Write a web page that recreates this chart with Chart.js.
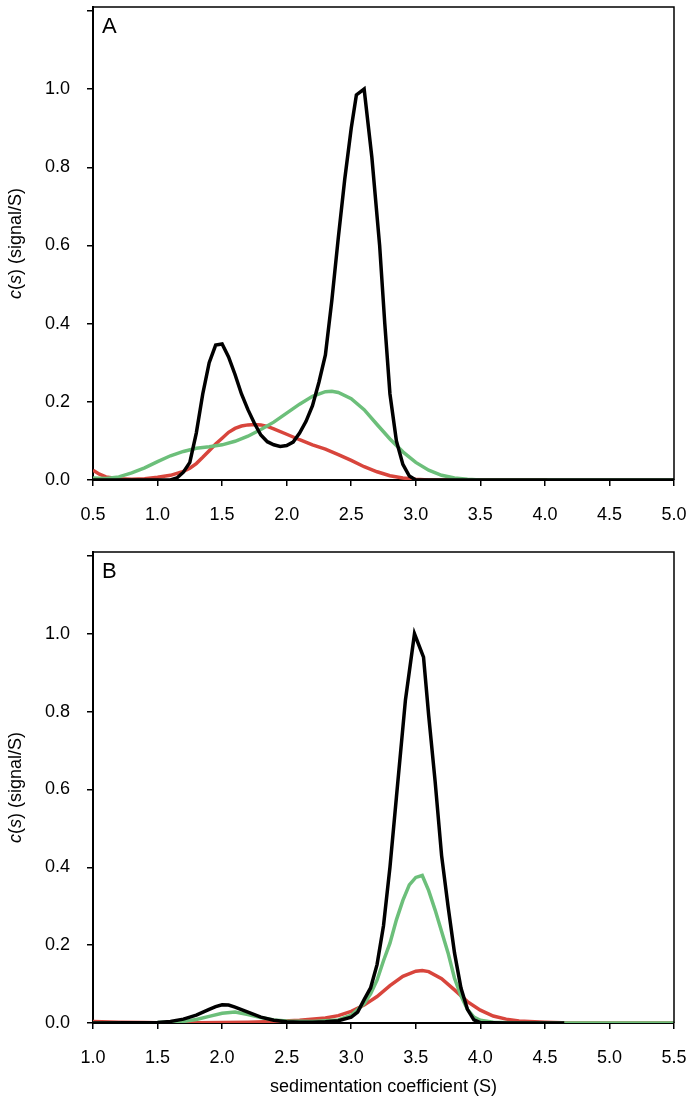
<!DOCTYPE html>
<html>
<head>
<meta charset="utf-8">
<script src="https://cdn.jsdelivr.net/npm/chart.js@4/dist/chart.umd.min.js"></script>
<style>
  html, body { margin: 0; padding: 0; background: #fff; }
  #wrap { position: relative; width: 694px; height: 1102px; }
  canvas { position: absolute; left: 0; }
</style>
</head>
<body>
<div id="wrap">
  <canvas id="chartA" width="694" height="540" style="top:0px"></canvas>
  <canvas id="chartB" width="694" height="562" style="top:540px"></canvas>
</div>
<script>
// panel A: sedimentation coefficient (S) and c(s) per curve
var aBlackS = [0.5, 0.8, 1.0, 1.1, 1.15, 1.2, 1.25, 1.3, 1.35, 1.4, 1.45, 1.5, 1.55, 1.6, 1.65, 1.7, 1.75, 1.8, 1.85, 1.9, 1.95, 2.0, 2.05, 2.1, 2.15, 2.2, 2.25, 2.3, 2.35, 2.4, 2.45, 2.5, 2.54, 2.6, 2.66, 2.72, 2.76, 2.8, 2.85, 2.9, 2.95, 3.0, 5.0];
var aBlackC = [0, 0, 0, 0, 0.005, 0.02, 0.045, 0.12, 0.22, 0.30, 0.345, 0.348, 0.315, 0.27, 0.22, 0.18, 0.145, 0.115, 0.098, 0.09, 0.086, 0.088, 0.097, 0.12, 0.15, 0.19, 0.25, 0.32, 0.46, 0.62, 0.77, 0.90, 0.985, 1.0, 0.825, 0.60, 0.40, 0.22, 0.10, 0.04, 0.01, 0, 0];
var aGreenS = [0.5, 0.6, 0.7, 0.8, 0.9, 1.0, 1.1, 1.2, 1.3, 1.4, 1.5, 1.6, 1.7, 1.8, 1.9, 2.0, 2.1, 2.2, 2.3, 2.35, 2.4, 2.5, 2.6, 2.7, 2.8, 2.9, 3.0, 3.1, 3.2, 3.3, 3.4, 3.5, 5.0];
var aGreenC = [0.005, 0.004, 0.008, 0.018, 0.031, 0.047, 0.062, 0.073, 0.081, 0.085, 0.09, 0.099, 0.112, 0.129, 0.148, 0.171, 0.194, 0.214, 0.226, 0.227, 0.224, 0.208, 0.18, 0.142, 0.105, 0.072, 0.045, 0.025, 0.012, 0.005, 0.002, 0, 0];
var aRedS = [0.5, 0.55, 0.6, 0.7, 0.8, 0.9, 1.0, 1.1, 1.2, 1.25, 1.3, 1.35, 1.4, 1.45, 1.5, 1.55, 1.6, 1.65, 1.7, 1.75, 1.8, 1.85, 1.9, 2.0, 2.1, 2.2, 2.3, 2.4, 2.5, 2.6, 2.7, 2.8, 2.9, 3.0, 3.1, 4.02];
var aRedC = [0.025, 0.015, 0.008, 0.003, 0.002, 0.003, 0.007, 0.012, 0.022, 0.03, 0.042, 0.058, 0.075, 0.092, 0.107, 0.122, 0.132, 0.138, 0.141, 0.142, 0.141, 0.137, 0.131, 0.117, 0.103, 0.09, 0.079, 0.065, 0.05, 0.034, 0.021, 0.011, 0.005, 0.002, 0, 0];

// panel B
var bBlackS = [1.0, 1.5, 1.6, 1.7, 1.8, 1.9, 1.95, 2.0, 2.05, 2.1, 2.2, 2.3, 2.4, 2.5, 2.6, 2.7, 2.8, 2.9, 3.0, 3.05, 3.1, 3.15, 3.2, 3.25, 3.3, 3.35, 3.42, 3.49, 3.56, 3.6, 3.65, 3.7, 3.75, 3.8, 3.85, 3.9, 3.95, 4.0, 4.2, 4.65];
var bBlackC = [0, 0.001, 0.004, 0.01, 0.02, 0.035, 0.042, 0.047, 0.046, 0.041, 0.028, 0.015, 0.007, 0.003, 0.002, 0.002, 0.003, 0.006, 0.015, 0.028, 0.06, 0.09, 0.15, 0.25, 0.40, 0.58, 0.83, 1.0, 0.94, 0.79, 0.62, 0.43, 0.30, 0.18, 0.09, 0.035, 0.008, 0.001, 0, 0];
var bGreenS = [1.0, 1.5, 1.7, 1.8, 1.9, 2.0, 2.1, 2.2, 2.3, 2.4, 2.5, 2.7, 2.9, 3.0, 3.1, 3.15, 3.2, 3.25, 3.3, 3.35, 3.4, 3.45, 3.5, 3.55, 3.6, 3.65, 3.7, 3.75, 3.8, 3.85, 3.9, 3.95, 4.0, 4.1, 4.3, 5.5];
var bGreenC = [0, 0.001, 0.004, 0.009, 0.017, 0.025, 0.028, 0.022, 0.014, 0.008, 0.005, 0.004, 0.008, 0.02, 0.05, 0.075, 0.11, 0.16, 0.205, 0.265, 0.315, 0.355, 0.374, 0.379, 0.34, 0.29, 0.235, 0.18, 0.115, 0.07, 0.035, 0.015, 0.007, 0.002, 0, 0];
var bRedS = [1.0, 1.2, 1.4, 1.6, 2.0, 2.2, 2.4, 2.6, 2.8, 2.9, 3.0, 3.1, 3.2, 3.3, 3.4, 3.5, 3.55, 3.6, 3.7, 3.8, 3.9, 4.0, 4.1, 4.2, 4.3, 4.5, 4.7, 5.5];
var bRedC = [0.004, 0.002, 0.001, 0, 0.001, 0.002, 0.004, 0.007, 0.013, 0.019, 0.03, 0.046, 0.068, 0.096, 0.12, 0.133, 0.135, 0.132, 0.114, 0.085, 0.055, 0.033, 0.018, 0.01, 0.005, 0.002, 0, 0];

// axis ticks
var aTicksX = [0.5, 1.0, 1.5, 2.0, 2.5, 3.0, 3.5, 4.0, 4.5, 5.0];
var bTicksX = [1.0, 1.5, 2.0, 2.5, 3.0, 3.5, 4.0, 4.5, 5.0, 5.5];
var yTicks = [0, 0.2, 0.4, 0.6, 0.8, 1.0, 1.2];
var yTickLabels = ['0.0', '0.2', '0.4', '0.6', '0.8', '1.0', ''];

var BLACK = '#000000';
var GREEN = '#6cbf7a';
var RED = '#d8453c';
var FONT = '"Liberation Sans", Arial, sans-serif';

function toPoints(xs, ys) {
    var pts = [];
    for (var i = 0; i < xs.length; i++) {
        pts.push({x: xs[i], y: ys[i]});
    }
    return pts;
}

function lineSet(xs, ys, color) {
    return {
        data: toPoints(xs, ys),
        borderColor: color,
        backgroundColor: color,
        borderWidth: 3.5,
        pointRadius: 0,
        tension: 0,
        fill: false
    };
}

// box on top/right, panel letter and y title with italic c and s
var panelPlugin = {
    id: 'panel',
    afterDraw: function (chart, args, opts) {
        var ctx = chart.ctx;
        var a = chart.chartArea;
        ctx.save();
        ctx.strokeStyle = BLACK;
        ctx.lineWidth = 1.5;
        ctx.beginPath();
        ctx.moveTo(a.left, a.top);
        ctx.lineTo(a.right, a.top);
        ctx.lineTo(a.right, a.bottom);
        ctx.stroke();

        ctx.fillStyle = BLACK;
        ctx.font = '22px ' + FONT;
        ctx.textBaseline = 'alphabetic';
        ctx.textAlign = 'left';
        ctx.fillText(opts.letter, a.left + 9, a.top + 26);

        var parts = [['c', 'italic '], ['(', ''], ['s', 'italic '], [') (signal/S)', '']];
        var total = 0;
        parts.forEach(function (p) {
            ctx.font = p[1] + '18px ' + FONT;
            total += ctx.measureText(p[0]).width;
        });
        ctx.translate(16, (a.top + a.bottom) / 2);
        ctx.rotate(-Math.PI / 2);
        ctx.textBaseline = 'middle';
        var x = -total / 2;
        parts.forEach(function (p) {
            ctx.font = p[1] + '18px ' + FONT;
            ctx.fillText(p[0], x, 0);
            x += ctx.measureText(p[0]).width;
        });
        ctx.restore();
    }
};

function makeChart(id, letter, sets, xMin, xMax, xTicks, topPad, xAxisH, xTitle) {
    var ctx = document.getElementById(id).getContext('2d');
    return new Chart(ctx, {
        type: 'line',
        data: {datasets: sets},
        plugins: [panelPlugin],
        options: {
            responsive: false,
            animation: false,
            events: [],
            devicePixelRatio: 1,
            layout: {padding: {top: topPad, right: 20, left: 0, bottom: 0}},
            plugins: {
                legend: {display: false},
                tooltip: {enabled: false},
                panel: {letter: letter}
            },
            scales: {
                x: {
                    type: 'linear',
                    min: xMin,
                    max: xMax,
                    afterBuildTicks: function (scale) {
                        scale.ticks = xTicks.map(function (v) { return {value: v}; });
                    },
                    afterFit: function (scale) {
                        scale.height = xAxisH;
                        scale.paddingLeft = 0;
                        scale.paddingRight = 0;
                    },
                    ticks: {
                        autoSkip: false,
                        maxRotation: 0,
                        padding: 18,
                        color: BLACK,
                        font: {family: FONT, size: 18},
                        callback: function (v) { return v.toFixed(1); }
                    },
                    grid: {drawOnChartArea: false, drawTicks: true, tickLength: 6, color: BLACK, lineWidth: 1.5},
                    border: {display: true, color: BLACK, width: 2},
                    title: {
                        display: !!xTitle,
                        text: xTitle || '',
                        color: BLACK,
                        font: {family: FONT, size: 18},
                        padding: {top: 0, bottom: 4}
                    }
                },
                y: {
                    min: 0,
                    max: 1.21,
                    afterBuildTicks: function (scale) {
                        scale.ticks = yTicks.map(function (v) { return {value: v}; });
                    },
                    afterFit: function (scale) {
                        scale.width = 93;
                        scale.paddingTop = 0;
                        scale.paddingBottom = 0;
                    },
                    ticks: {
                        padding: 17,
                        color: BLACK,
                        font: {family: FONT, size: 18},
                        callback: function (v, i) { return yTickLabels[i]; }
                    },
                    grid: {drawOnChartArea: false, drawTicks: true, tickLength: 6, color: BLACK, lineWidth: 1.5},
                    border: {display: true, color: BLACK, width: 2}
                }
            }
        }
    });
}

makeChart('chartA', 'A', [
    lineSet(aBlackS, aBlackC, BLACK),
    lineSet(aGreenS, aGreenC, GREEN),
    lineSet(aRedS, aRedC, RED)
], 0.5, 5.0, aTicksX, 7, 60, null);

makeChart('chartB', 'B', [
    lineSet(bBlackS, bBlackC, BLACK),
    lineSet(bGreenS, bGreenC, GREEN),
    lineSet(bRedS, bRedC, RED)
], 1.0, 5.5, bTicksX, 12, 79, 'sedimentation coefficient (S)');
</script>
</body>
</html>
